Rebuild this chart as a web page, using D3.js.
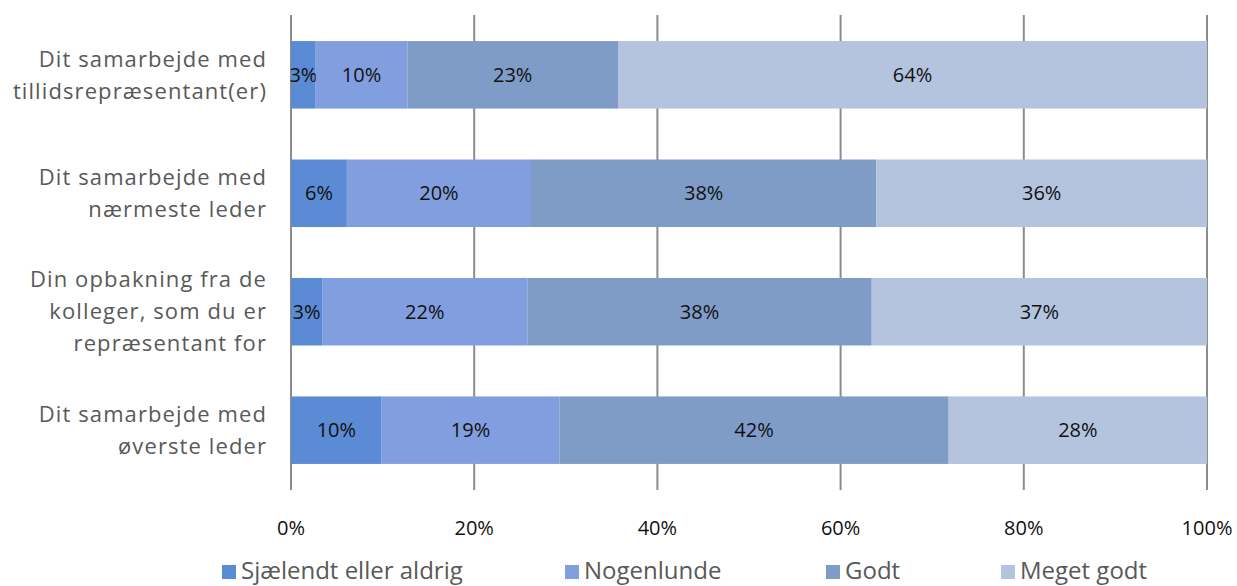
<!DOCTYPE html>
<html>
<head>
<meta charset="utf-8">
<script src="https://cdn.jsdelivr.net/npm/d3@7"></script>
<style>
  body { margin: 0; background: #fff; }
  svg text { font-family: "Open Sans", sans-serif; }
</style>
</head>
<body>
<svg id="chart"></svg>
<script>
const categories = [
  ["Dit samarbejde med", "tillidsrepræsentant(er)"],
  ["Dit samarbejde med", "nærmeste leder"],
  ["Din opbakning fra de", "kolleger, som du er", "repræsentant for"],
  ["Dit samarbejde med", "øverste leder"],
];
const seriesNames = ["Sjælendt eller aldrig", "Nogenlunde", "Godt", "Meget godt"];
const seriesValues = [
  [2.7, 6.1, 3.4, 9.9],
  [10.0, 20.1, 22.4, 19.4],
  [23.0, 37.7, 37.6, 42.5],
  [64.3, 36.1, 36.6, 28.2],
];
const dataLabels = [
  ["3%", "6%", "3%", "10%"],
  ["10%", "20%", "22%", "19%"],
  ["23%", "38%", "38%", "42%"],
  ["64%", "36%", "37%", "28%"],
];
const tickValues = [0, 20, 40, 60, 80, 100];
const colors = ["#5b8bd4", "#819fde", "#7f9cc7", "#b4c4df"];

const width = 1237, height = 586;
const margin = { top: 15, left: 291, right: 30, bottom: 96 };

const svg = d3.select("#chart").attr("width", width).attr("height", height);

const x = d3.scaleLinear().domain([0, 100]).range([margin.left, 1207]);
const y = d3.scaleBand()
  .domain(d3.range(categories.length))
  .range([margin.top, height - margin.bottom])
  .paddingInner(0.43)
  .paddingOuter(0.22);

// gridlines
svg.append("g")
  .selectAll("line")
  .data(tickValues)
  .join("line")
  .attr("x1", d => x(d)).attr("x2", d => x(d))
  .attr("y1", margin.top).attr("y2", height - margin.bottom)
  .attr("stroke", "#8c8c8c")
  .attr("stroke-width", 2);

// stacked bars
const rows = categories.map((c, i) => {
  let acc = 0;
  return seriesValues.map((s, k) => {
    const d = { row: i, k, x0: acc, x1: acc + s[i], label: dataLabels[k][i] };
    acc += s[i];
    return d;
  });
});

const segs = svg.append("g")
  .selectAll("g")
  .data(rows.flat())
  .join("g");

segs.append("rect")
  .attr("x", d => x(d.x0))
  .attr("width", d => x(d.x1) - x(d.x0))
  .attr("y", d => y(d.row))
  .attr("height", y.bandwidth())
  .attr("fill", d => colors[d.k]);

segs.append("text")
  .attr("x", d => (x(d.x0) + x(d.x1)) / 2)
  .attr("y", d => y(d.row) + y.bandwidth() / 2)
  .attr("dy", "0.35em")
  .attr("text-anchor", "middle")
  .attr("font-size", 20)
  .attr("fill", "#111")
  .text(d => d.label);

// category labels
const catG = svg.append("g")
  .selectAll("text")
  .data(categories)
  .join("text")
  .attr("text-anchor", "end")
  .attr("font-size", 22)
  .attr("letter-spacing", 1.1)
  .attr("fill", "#595959");

catG.each(function (lines, i) {
  const cy = y(i) + y.bandwidth() / 2;
  const lh = 32;
  d3.select(this).selectAll("tspan")
    .data(lines)
    .join("tspan")
    .attr("x", 267)
    .attr("y", (d, j) => cy + (j - (lines.length - 1) / 2) * lh)
    .attr("dy", "0.35em")
    .text(d => d);
});

// x axis labels
svg.append("g")
  .selectAll("text")
  .data(tickValues)
  .join("text")
  .attr("x", d => x(d))
  .attr("y", 528)
  .attr("dy", "0.35em")
  .attr("text-anchor", "middle")
  .attr("font-size", 20)
  .attr("fill", "#111")
  .text(d => d + "%");

// legend
const legendX = [222, 565, 826, 1001];
const legend = svg.append("g")
  .selectAll("g")
  .data(seriesNames)
  .join("g")
  .attr("transform", (d, i) => `translate(${legendX[i]},0)`);

legend.append("rect")
  .attr("y", 565).attr("width", 14).attr("height", 14)
  .attr("fill", (d, i) => colors[i]);

legend.append("text")
  .attr("x", 19)
  .attr("y", 579)
  .attr("font-size", 24)
  .attr("fill", "#595959")
  .text(d => d);
</script>
</body>
</html>
